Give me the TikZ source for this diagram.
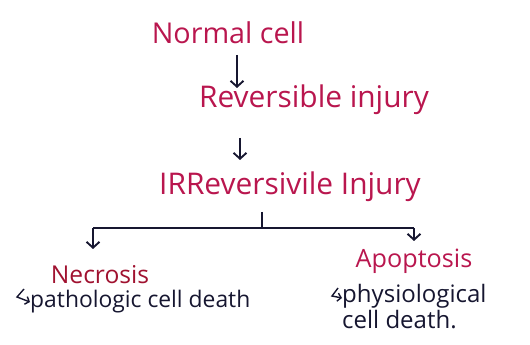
\documentclass[tikz,border=0pt]{standalone}
\usepackage{fontspec}
\setmainfont{Open Sans}
\usetikzlibrary{positioning,arrows.meta}
\definecolor{inkred}{RGB}{185,22,78}
\definecolor{inkdark}{RGB}{160,18,48}
\definecolor{inkblue}{RGB}{22,22,48}
\begin{document}
\begin{tikzpicture}[
    x=0.03cm, y=-0.03cm,
    >={Straight Barb[length=5pt,width=11pt]},
    head/.style={text=inkred, inner sep=1pt},
    kind/.style={text=inkdark, inner sep=0pt},
    note/.style={text=inkblue, inner sep=0pt, align=left},
    arr/.style={->, line width=1.6pt, inkblue},
    hook/.style={->, line width=1.2pt, inkblue, >={Straight Barb[length=3pt,width=7pt]}},
]
  \useasboundingbox (0,0) rectangle (530,345);

  % Main chain
  \node[head, font=\fontsize{24.5}{28}\selectfont] (normal) at (228, 33) {Normal cell};
  \node[head, font=\fontsize{25.5}{29}\selectfont] (rev) at (314, 100) {Reversible injury};
  \node[head, font=\fontsize{25.5}{29}\selectfont] (irrev) at (290, 187) {IRReversivile Injury};

  \draw[arr] (237, 55) -- (237, 88);
  \draw[arr] (240, 138) -- (240, 160);

  % Branch
  \coordinate (split) at (262, 228);
  \coordinate (left) at (93, 228);
  \coordinate (right) at (414, 228);
  \draw[line width=1.6pt, inkblue] (262, 212) -- (split);
  \draw[line width=1.6pt, inkblue] (left) -- (right);
  \node[kind, font=\fontsize{21}{24}\selectfont] (necro) at (100, 275) {Necrosis};
  \node[head, font=\fontsize{21.5}{24}\selectfont] (apop) at (414, 261) {Apoptosis};
  \draw[arr] (left) -- (93, 249);
  \draw[arr] (right) -- (414, 241);

  % Notes
  \node[note, anchor=west, font=\fontsize{19.5}{22}\selectfont] (patho) at (30, 302) {pathologic cell death};
  \node[note, anchor=north west, font=\fontsize{20.5}{22}\selectfont] (physio) at (342, 284) {physiological\\cell death.};
  \draw[hook] (24, 289) -- (17, 297) -- (patho.west);
  \draw[hook] (338, 288) -- (332, 296) -- (physio.west |- 0, 298);

\end{tikzpicture}
\end{document}
